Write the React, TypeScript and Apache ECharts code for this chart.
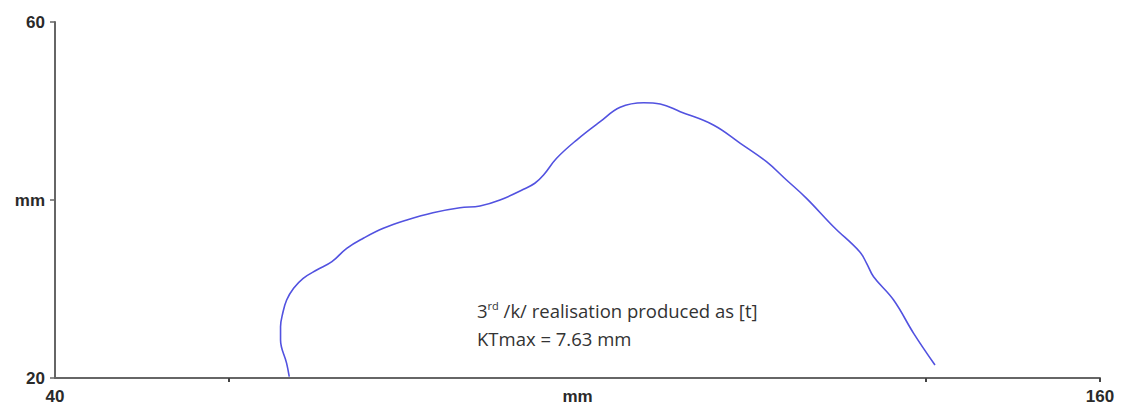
import React, { useEffect, useRef } from "react";
import * as echarts from "echarts";

const xValues = [66.9, 66.6, 65.9, 65.9, 66.15, 66.6, 67.4, 68.5, 70.05, 71.8, 73.5, 75.4, 77.7, 80.4, 83.4, 86.5, 88.8, 91.1, 93.8, 95.1, 96.1, 97.6, 99.9, 102.6, 104.9, 107.6, 109.5, 111.8, 115.6, 118.7, 121.7, 124.0, 126.3, 129.4, 132.4, 133.2, 134.0, 136.3, 138.6, 141.05];
const yValues = [20.15, 21.65, 24.27, 25.76, 27.27, 28.76, 30.08, 31.2, 32.13, 33.07, 34.57, 35.7, 36.82, 37.75, 38.57, 39.13, 39.33, 40.0, 41.2, 41.88, 42.81, 44.69, 46.74, 48.8, 50.42, 50.93, 50.79, 49.92, 48.43, 46.37, 44.3, 42.25, 40.19, 37.0, 34.19, 32.89, 31.38, 28.76, 25.02, 21.46];
const xLabelMap: Record<number, string> = { 40: "40", 100: "mm", 160: "160" };
const yLabelMap: Record<number, string> = { 20: "20", 40: "mm", 60: "60" };
const annotationLine1 = "/k/ realisation produced as [t]";
const annotationLine2 = "KTmax = 7.63 mm";

export default function App() {
  const ref = useRef<HTMLDivElement>(null);
  useEffect(() => {
    if (!ref.current) return;
    const chart = echarts.init(ref.current, undefined, { renderer: "svg" });
    const data = xValues.map((x, i) => [x, yValues[i]]);
    const labelStyle = {
      color: "#2a2a2a",
      fontFamily: "Liberation Sans, Arial, sans-serif",
      fontWeight: "bold" as const,
      fontSize: 17,
    };
    chart.setOption({
      animation: false,
      backgroundColor: "#ffffff",
      grid: { left: 55, top: 22, right: 27, bottom: 30, containLabel: false },
      xAxis: {
        type: "value",
        min: 40,
        max: 160,
        interval: 20,
        splitLine: { show: false },
        axisLine: { show: true, lineStyle: { color: "#666666", width: 2 } },
        axisTick: { show: true, length: 4, customValues: [60, 140, 160], lineStyle: { color: "#444", width: 2 } },
        axisLabel: {
          ...labelStyle,
          margin: 10,
          customValues: [40, 100, 160],
          formatter: (v: number) => xLabelMap[v] ?? "",
        },
      },
      yAxis: {
        type: "value",
        min: 20,
        max: 60,
        interval: 20,
        splitLine: { show: false },
        axisLine: { show: true, lineStyle: { color: "#666666", width: 2 } },
        axisTick: { show: true, length: 5, lineStyle: { color: "#666", width: 1.5 } },
        axisLabel: {
          ...labelStyle,
          margin: 10,
          formatter: (v: number) => yLabelMap[v] ?? "",
        },
      },
      series: [
        {
          type: "line",
          data,
          smooth: 0.4,
          showSymbol: false,
          lineStyle: { color: "#5252e0", width: 1.6 },
        },
      ],
      graphic: [
        {
          type: "text",
          left: 477,
          top: 300,
          style: {
            text: "3{sup|rd} " + annotationLine1,
            fill: "#333333",
            font: "18.5px 'Open Sans', sans-serif",
            rich: {
              sup: { fontSize: 11, verticalAlign: "top", padding: [0, 0, 9, 0], fill: "#333333", fontFamily: "Open Sans" },
            },
          },
        },
        {
          type: "text",
          left: 477,
          top: 329,
          style: {
            text: annotationLine2,
            fill: "#333333",
            font: "18.5px 'Open Sans', sans-serif",
          },
        },
      ],
    });
    return () => chart.dispose();
  }, []);
  return (
    <div
      ref={ref}
      style={{ position: "absolute", left: 0, top: 0, width: 1127, height: 408 }}
    />
  );
}
